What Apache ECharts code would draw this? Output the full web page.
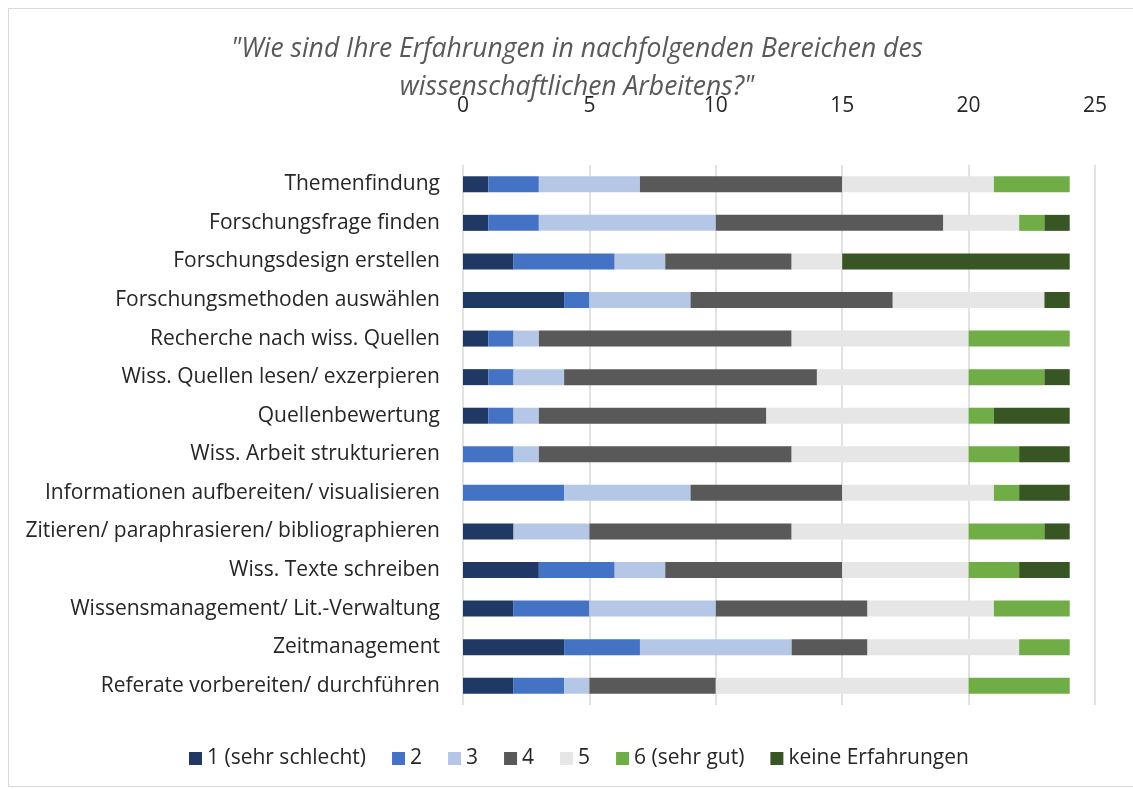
<!DOCTYPE html>
<html>
<head>
<meta charset="utf-8">
<script src="https://cdn.jsdelivr.net/npm/echarts@6/dist/echarts.min.js"></script>
<style>
  body { margin: 0; background: #fff; }
  #rahmen { position: absolute; left: 8px; top: 8px; width: 1140px; height: 777px; border: 1px solid #d9d9d9; }
  #main { position: absolute; left: 0; top: 0; width: 1133px; height: 789px; }
</style>
</head>
<body>
<div id="rahmen"></div>
<div id="main"></div>
<script>
// Kategorien (von oben nach unten)
var bereiche = ['Themenfindung', 'Forschungsfrage finden', 'Forschungsdesign erstellen',
    'Forschungsmethoden auswählen', 'Recherche nach wiss. Quellen', 'Wiss. Quellen lesen/ exzerpieren',
    'Quellenbewertung', 'Wiss. Arbeit strukturieren', 'Informationen aufbereiten/ visualisieren',
    'Zitieren/ paraphrasieren/ bibliographieren', 'Wiss. Texte schreiben',
    'Wissensmanagement/ Lit.-Verwaltung', 'Zeitmanagement', 'Referate vorbereiten/ durchführen'];

var note1 = [1, 1, 2, 4, 1, 1, 1, 0, 0, 2, 3, 2, 4, 2];
var note2 = [2, 2, 4, 1, 1, 1, 1, 2, 4, 0, 3, 3, 3, 2];
var note3 = [4, 7, 2, 4, 1, 2, 1, 1, 5, 3, 2, 5, 6, 1];
var note4 = [8, 9, 5, 8, 10, 10, 9, 10, 6, 8, 7, 6, 3, 5];
var note5 = [6, 3, 2, 6, 7, 6, 8, 7, 6, 7, 5, 5, 6, 10];
var note6 = [3, 1, 0, 0, 4, 3, 1, 2, 1, 3, 2, 3, 2, 4];
var keine = [0, 1, 9, 1, 0, 1, 3, 2, 2, 1, 2, 0, 0, 0];

var namen = ['1 (sehr schlecht)', '2', '3', '4', '5', '6 (sehr gut)', 'keine Erfahrungen'];
var werte = [note1, note2, note3, note4, note5, note6, keine];
var farben = ['#203864', '#4472C4', '#B4C7E7', '#595959', '#E7E6E6', '#70AD47', '#375623'];

var schrift = 'Open Sans';
var textfarbe = '#262626';

var reihen = [];
for (var i = 0; i < namen.length; i++) {
    reihen.push({
        name: namen[i],
        type: 'bar',
        stack: 'gesamt',
        barWidth: 16,
        data: werte[i],
        itemStyle: { color: farben[i] }
    });
}

var myChart = echarts.init(document.getElementById('main'));
myChart.setOption({
    animation: false,
    color: farben,
    title: {
        text: '"Wie sind Ihre Erfahrungen in nachfolgenden Bereichen des\nwissenschaftlichen Arbeitens?"',
        left: 572,
        top: 25,
        textAlign: 'center',
        textStyle: {
            fontFamily: schrift,
            fontStyle: 'italic',
            fontWeight: 'normal',
            fontSize: 26.5,
            lineHeight: 38,
            color: '#595959'
        }
    },
    legend: {
        top: 743,
        left: 184,
        width: 950,
        itemWidth: 13,
        itemHeight: 13,
        itemGap: 26,
        icon: 'rect',
        data: namen,
        textStyle: { fontFamily: schrift, fontSize: 21, color: textfarbe }
    },
    grid: { left: 463, right: 38, top: 165, bottom: 84 },
    xAxis: {
        type: 'value',
        position: 'top',
        min: 0,
        max: 25,
        interval: 5,
        axisLine: { show: false },
        axisTick: { show: false },
        axisLabel: { margin: 48, fontFamily: schrift, fontSize: 21, color: textfarbe },
        splitLine: { lineStyle: { color: '#d9d9d9', width: 1.5 } }
    },
    yAxis: {
        type: 'category',
        inverse: true,
        data: bereiche,
        axisLine: { show: false },
        axisTick: { show: false },
        axisLabel: { margin: 23, fontFamily: schrift, fontSize: 21, color: textfarbe }
    },
    series: reihen
});
</script>
</body>
</html>
